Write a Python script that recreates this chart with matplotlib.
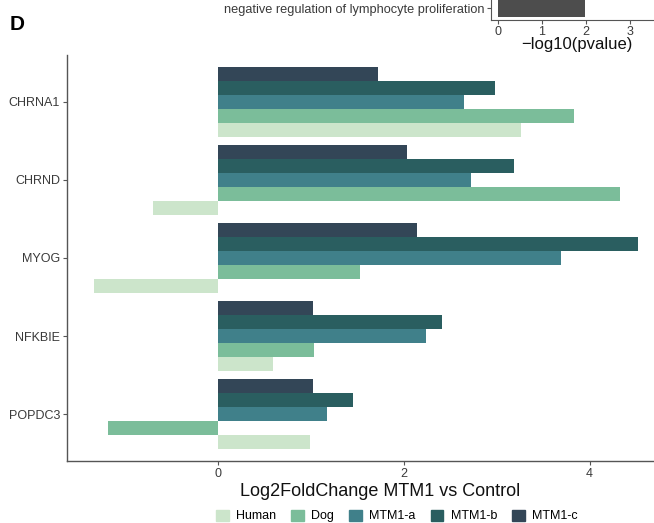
import matplotlib
matplotlib.use("Agg")
import matplotlib.pyplot as plt
import matplotlib.patches as mpatches
import numpy as np

plt.rcParams['font.family'] = ['Liberation Sans', 'DejaVu Sans']

genes = ["CHRNA1", "CHRND", "MYOG", "NFKBIE", "POPDC3"]
series = ["Human", "Dog", "MTM1-a", "MTM1-b", "MTM1-c"]
human = [3.26, -0.70, -1.33, 0.59, 0.99]
dog = [3.83, 4.33, 1.53, 1.04, -1.18]
mtm1_a = [2.65, 2.72, 3.69, 2.24, 1.18]
mtm1_b = [2.98, 3.19, 4.52, 2.41, 1.46]
mtm1_c = [1.72, 2.04, 2.14, 1.03, 1.03]
colors = ["#cce5cb", "#7bbd9a", "#40808a", "#2a5e60", "#334657"]

go_terms = ["negative regulation of lymphocyte proliferation"]
go_pvalue = [1.98]

values = [human, dog, mtm1_a, mtm1_b, mtm1_c]

fig = plt.figure(figsize=(6.54, 5.23), dpi=100)

# main panel
ax = fig.add_axes([67/654, 62/523, (665-67)/654, (468-62)/523])
n = len(genes)
ypos = np.arange(n)[::-1] + 1.0  # top gene highest
group_w = 0.9
bw = group_w / len(series)
for i, (s, vals, c) in enumerate(zip(series, values, colors)):
    offs = -group_w/2 + bw*(i + 0.5)
    ax.barh(ypos + offs, vals, height=bw, color=c, label=s, edgecolor='none')
ax.set_ylim(0.4, n + 0.6)
ax.set_xlim(-1.62, 4.81)
ax.set_yticks(ypos)
ax.set_yticklabels(genes, fontsize=9, color='#3a3a3a')
ax.set_xticks([0, 2, 4])
ax.set_xticklabels(["0", "2", "4"], fontsize=9, color='#3a3a3a')
for sp in ['top', 'right']:
    ax.spines[sp].set_visible(False)
for sp in ['left', 'bottom']:
    ax.spines[sp].set_color('#555555')
    ax.spines[sp].set_linewidth(1.0)
ax.tick_params(axis='both', length=3, width=0.8, color='#555555', pad=2)

fig.text(380/654, 1 - 492/523, "Log2FoldChange MTM1 vs Control", fontsize=13,
         ha='center', va='center', color='#111111')

handles = [mpatches.Patch(color=c, label=s) for s, c in zip(series, colors)]
fig.legend(handles=handles, loc='center', bbox_to_anchor=(397/654, 1 - 516/523),
           ncol=5, frameon=False, fontsize=9, handlelength=1.0, handleheight=1.0,
           handletextpad=0.6, columnspacing=1.2, borderpad=0)

# fragment of panel above
ax2 = fig.add_axes([491/654, 1 - 20/523, (700-491)/654, 40/523])
ax2.barh([0.6], go_pvalue, height=0.9, color='#4d4d4d')
ax2.set_ylim(0, 2)
ax2.set_xlim(-0.16, 4.59)
ax2.set_yticks([0.6])
ax2.set_yticklabels(go_terms, fontsize=9.2, color='#3a3a3a')
ax2.set_xticks([0, 1, 2, 3])
ax2.set_xticklabels(["0", "1", "2", "3"], fontsize=9, color='#3a3a3a')
for sp in ['top', 'right']:
    ax2.spines[sp].set_visible(False)
for sp in ['left', 'bottom']:
    ax2.spines[sp].set_color('#555555')
ax2.tick_params(axis='both', length=3, width=0.8, color='#555555', pad=1.5)
fig.text(577/654, 1 - 45/523, "\u2212log10(pvalue)", fontsize=12, ha='center', va='center',
         color='#111111')

fig.text(10/654, 1 - 25/523, "D", fontsize=15, fontweight='bold', ha='left', va='center')

fig.savefig("out.png", dpi=100)
